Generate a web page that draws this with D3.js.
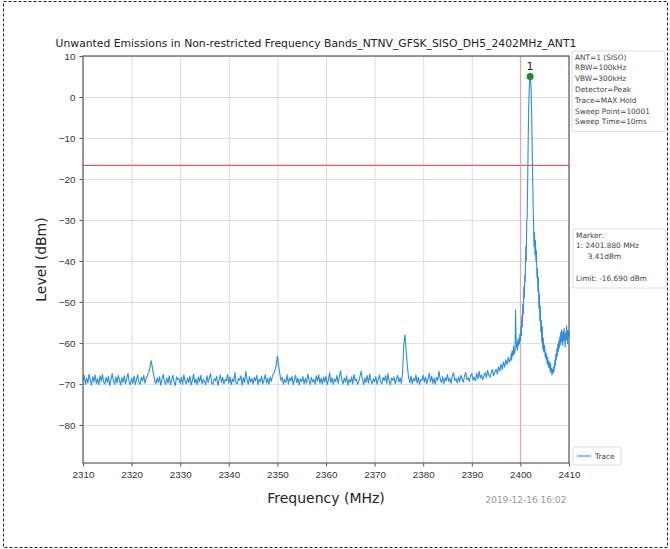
<!DOCTYPE html>
<html>
<head>
<meta charset="utf-8">
<script src="https://cdn.jsdelivr.net/npm/d3@7"></script>
<style>
    body { margin: 0; background: #fff; }
    svg { display: block; font-family: "DejaVu Sans", sans-serif; }
    .tick text { fill: #333; font-size: 9.8px; }
    .tick line { stroke: #555; }
    .grid line { stroke: #ddd; }
    .note { font-size: 7.4px; fill: #444; }
</style>
</head>
<body>
<svg id="chart" width="670" height="549"></svg>
<script>
// Noise floor: 2310 .. 2397.75 MHz, one reading every 0.25 MHz
var noiseStart = 2310;
var noiseStep = 0.25;
var noiseLevels = [
    -69.3, -67.9, -70.1, -68.6, -69.8, -67.6, -69.0, -70.3, -68.2, -69.5, -67.8, -69.9, -68.7, -70.2, -68.0, -69.4, -67.7, -69.6, -70.0, -68.4,
    -69.7, -68.1, -70.4, -68.9, -67.5, -69.2, -70.1, -68.3, -69.8, -67.9, -69.0, -70.3, -68.5, -69.6, -68.0, -70.0, -68.8, -67.4, -69.5, -70.2,
    -68.6, -69.9, -68.1, -70.2, -69.0, -67.8, -69.6, -70.1, -68.4, -69.3, -67.9, -69.8, -68.7, -68.0, -67.2, -66.3, -64.3, -65.8, -67.6, -69.2,
    -70.0, -68.5, -69.7, -68.2, -70.3, -68.9, -67.7, -69.4, -70.1, -68.6, -69.8, -68.0, -70.2, -69.1, -67.9, -69.5, -70.4, -68.3, -69.0, -68.7,
    -69.9, -68.4, -70.1, -67.8, -69.3, -70.0, -68.6, -69.7, -68.1, -70.3, -69.2, -67.6, -69.8, -68.8, -70.2, -68.3, -69.5, -67.9, -70.0, -68.9,
    -69.4, -70.2, -68.0, -69.7, -68.5, -67.5, -69.9, -70.1, -68.7, -69.2, -68.2, -70.4, -69.0, -67.8, -69.6, -68.4, -70.0, -68.9, -69.3, -67.7,
    -69.8, -68.3, -70.2, -68.8, -69.5, -67.2, -69.9, -70.0, -68.6, -69.1, -68.0, -70.3, -68.5, -69.7, -66.9, -68.9, -70.1, -68.2, -69.6, -68.7,
    -70.0, -68.4, -69.3, -67.9, -70.2, -68.8, -69.5, -68.1, -70.0, -69.0, -67.7, -69.8, -68.6, -70.1, -68.3, -69.4, -68.0, -67.4, -66.6, -65.5,
    -63.2, -65.6, -67.5, -69.2, -68.4, -70.1, -68.9, -69.6, -67.8, -70.0, -68.5, -69.3, -68.1, -70.2, -69.0, -67.9, -69.7, -68.6, -70.3, -68.8,
    -69.4, -68.2, -70.0, -68.7, -69.8, -67.6, -69.1, -70.2, -68.4, -69.5, -68.9, -70.1, -68.0, -69.3, -67.8, -69.9, -68.6, -70.0, -68.3, -69.6,
    -68.1, -70.2, -69.0, -67.3, -69.7, -68.5, -70.1, -68.8, -69.4, -67.9, -69.9, -68.2, -66.8, -69.1, -70.0, -68.6, -69.5, -68.0, -70.3, -68.9,
    -69.6, -68.3, -70.0, -67.7, -69.2, -68.8, -70.1, -69.4, -68.1, -66.9, -69.0, -70.2, -68.5, -69.7, -68.0, -69.8, -67.6, -69.3, -70.0, -68.7,
    -69.5, -68.2, -70.1, -68.9, -67.8, -69.6, -70.0, -68.4, -69.2, -68.0, -69.9, -67.5, -69.4, -70.2, -68.6, -69.1, -68.3, -70.0, -68.8, -67.9,
    -69.6, -68.5, -69.9, -67.4, -60.5, -58.0, -62.0, -65.8, -68.4, -69.7, -68.1, -70.0, -68.7, -69.3, -67.8, -69.8, -68.4, -70.1, -68.9, -69.2,
    -67.9, -69.6, -68.3, -70.0, -68.8, -67.4, -69.5, -68.1, -69.9, -68.6, -70.1, -68.4, -69.1, -66.9, -68.8, -69.7, -68.2, -70.0, -68.5, -69.3,
    -67.7, -69.4, -68.6, -69.9, -68.0, -67.3, -69.2, -68.7, -69.8, -68.3, -69.5, -67.9, -68.8, -69.6, -68.1, -67.2, -69.0, -68.5, -69.4, -68.0,
    -67.5, -69.1, -68.3, -69.3, -67.4, -68.8, -66.9, -68.6, -67.8, -69.0, -68.1, -67.2, -68.5, -66.7, -67.9, -68.4, -67.3, -66.5, -68.0, -67.1,
    -66.4, -67.6, -65.8, -66.9, -65.2, -66.5, -64.6, -65.9, -64.1, -65.3, -63.5, -64.7
];

// Carrier region: 2398 .. 2410 MHz, one reading every 0.1 MHz
var peakStart = 2398;
var peakStep = 0.1;
var peakLevels = [
    -63.8, -62.6, -64.2, -61.9, -63.1, -62.4, -60.8, -62.9, -61.5, -62.2,
    -52.0, -58.5, -61.2, -60.0, -61.8, -59.3, -60.6, -58.8, -60.2, -57.9,
    -59.5, -56.0, -58.2, -53.4, -56.0, -50.5, -53.0, -46.3, -49.0, -43.5,
    -45.0, -36.5, -40.0, -30.5, -29.0, -20.0, -11.0, -3.0, 1.5, 3.8,
    5.0, 4.2, 2.0, -3.5, -10.0, -18.0, -25.0, -30.0, -36.5, -33.0,
    -38.5, -35.0, -40.2, -37.5, -44.0, -41.8, -47.5, -44.0, -51.5, -48.0,
    -54.5, -51.0, -57.2, -54.5, -59.8, -56.0, -61.5, -58.8, -62.2, -60.5,
    -61.0, -63.5, -62.2, -64.0, -62.8, -65.2, -63.6, -64.8, -66.0, -64.4,
    -65.6, -66.8, -65.0, -67.2, -66.2, -67.8, -66.5, -67.4, -65.8, -67.0,
    -66.0, -64.2, -65.5, -62.8, -64.0, -61.5, -63.2, -60.4, -62.0, -59.5,
    -61.2, -58.6, -60.5, -57.4, -59.8, -56.8, -58.9, -60.6, -57.2, -59.4,
    -56.5, -58.8, -61.0, -57.6, -59.2, -55.8, -58.0, -60.2, -56.9, -58.4,
    -57.5
];

var xTicks = [2310, 2320, 2330, 2340, 2350, 2360, 2370, 2380, 2390, 2400, 2410];
var yTicks = [10, 0, -10, -20, -30, -40, -50, -60, -70, -80];

var limitLevel = -16.69;
var bandEdge = 2400;
var markerFreq = 2402.0;
var markerLevel = 5.0;

var titleText = "Unwanted Emissions in Non-restricted Frequency Bands_NTNV_GFSK_SISO_DH5_2402MHz_ANT1";
var setupLines = ["ANT=1 (SISO)", "RBW=100kHz", "VBW=300kHz", "Detector=Peak",
    "Trace=MAX Hold", "Sweep Point=10001", "Sweep Time=10ms"];
var markerLines = ["Marker:", "1: 2401.880 MHz", "     3.41dBm", "", "Limit: -16.690 dBm"];
var stampText = "2019-12-16 16:02";

var margin = {left: 83, top: 56, right: 101, bottom: 86};
var W = 670, H = 549;
var width = W - margin.left - margin.right;
var height = H - margin.top - margin.bottom;

var svg = d3.select("#chart");

// page frame
svg.append("rect")
    .attr("x", 3.5).attr("y", 1.5)
    .attr("width", 664).attr("height", 546)
    .attr("fill", "none")
    .attr("stroke", "#222")
    .attr("stroke-dasharray", "3,2");

var trace = noiseLevels.map(function (v, i) {
    return {f: noiseStart + i * noiseStep, v: v};
}).concat(peakLevels.map(function (v, i) {
    return {f: peakStart + i * peakStep, v: v};
}));

var x = d3.scaleLinear()
    .domain([2310, 2410])
    .range([margin.left, margin.left + width]);

var y = d3.scaleLinear()
    .domain([-89.3, 10])
    .range([margin.top + height, margin.top]);

// grid
svg.append("g")
    .attr("class", "grid")
    .attr("transform", "translate(0," + (margin.top + height) + ")")
    .call(d3.axisBottom(x).tickValues(xTicks).tickSize(-height).tickFormat(""))
    .call(g => g.select(".domain").remove());

svg.append("g")
    .attr("class", "grid")
    .attr("transform", "translate(" + margin.left + ",0)")
    .call(d3.axisLeft(y).tickValues(yTicks).tickSize(-width).tickFormat(""))
    .call(g => g.select(".domain").remove());

// limit and band edge
svg.append("line")
    .attr("x1", margin.left).attr("x2", margin.left + width)
    .attr("y1", y(limitLevel)).attr("y2", y(limitLevel))
    .attr("stroke", "#e0605a").attr("stroke-width", 1.1);

svg.append("line")
    .attr("x1", x(bandEdge)).attr("x2", x(bandEdge))
    .attr("y1", margin.top).attr("y2", margin.top + height)
    .attr("stroke", "#e8a0a0").attr("stroke-width", 1);

// trace
var line = d3.line()
    .x(d => x(d.f))
    .y(d => y(d.v));

svg.append("path")
    .datum(trace)
    .attr("d", line)
    .attr("fill", "none")
    .attr("stroke", "#2c8ee3")
    .attr("stroke-width", 1.1)
    .attr("stroke-linejoin", "round");

// marker
svg.append("circle")
    .attr("cx", x(markerFreq)).attr("cy", y(markerLevel))
    .attr("r", 3.5)
    .attr("fill", "#1e8a2e");

svg.append("text")
    .attr("x", x(markerFreq))
    .attr("y", y(markerLevel) - 6)
    .attr("text-anchor", "middle")
    .style("font-size", "11px")
    .style("fill", "#222")
    .text("1");

// axes
var xAxis = svg.append("g")
    .attr("transform", "translate(0," + (margin.top + height) + ")")
    .call(d3.axisBottom(x).tickValues(xTicks).tickSize(3.5).tickPadding(5).tickFormat(d3.format("d")));

var yAxis = svg.append("g")
    .attr("transform", "translate(" + margin.left + ",0)")
    .call(d3.axisLeft(y).tickValues(yTicks).tickSize(3.5).tickPadding(4)
        .tickFormat(d => d < 0 ? "\u2212" + Math.abs(d) : d));

svg.selectAll(".domain").remove();

svg.append("rect")
    .attr("x", margin.left).attr("y", margin.top)
    .attr("width", width).attr("height", height)
    .attr("fill", "none")
    .attr("stroke", "#666")
    .attr("stroke-width", 1.3);

// titles
svg.append("text")
    .attr("x", 316)
    .attr("y", 47)
    .attr("text-anchor", "middle")
    .style("font-size", "10.8px")
    .style("fill", "#222")
    .text(titleText);

svg.append("text")
    .attr("transform", "translate(46," + (margin.top + height / 2) + ") rotate(-90)")
    .attr("text-anchor", "middle")
    .style("font-size", "14px")
    .style("fill", "#222")
    .text("Level (dBm)");

svg.append("text")
    .attr("x", margin.left + width / 2)
    .attr("y", 503)
    .attr("text-anchor", "middle")
    .style("font-size", "14px")
    .style("fill", "#222")
    .text("Frequency (MHz)");

svg.append("text")
    .attr("x", 526)
    .attr("y", 503)
    .attr("text-anchor", "middle")
    .style("font-size", "9px")
    .style("fill", "#999")
    .text(stampText);

// side notes
function noteBox(lines, x0, y0, w) {
    var h = lines.length * 10.8 + 5;
    svg.append("rect")
        .attr("x", x0).attr("y", y0)
        .attr("width", w).attr("height", h)
        .attr("rx", 2)
        .attr("fill", "#fff")
        .attr("stroke", "#ddd");
    svg.selectAll(null)
        .data(lines)
        .enter()
        .append("text")
        .attr("class", "note")
        .attr("x", x0 + 3)
        .attr("y", (d, i) => y0 + 8.5 + i * 10.8)
        .style("white-space", "pre")
        .text(d => d);
}

noteBox(setupLines, 572, 51, 93);
noteBox(markerLines, 573, 229, 93);

// legend
svg.append("rect")
    .attr("x", 573).attr("y", 447)
    .attr("width", 48).attr("height", 18)
    .attr("rx", 2)
    .attr("fill", "#fff")
    .attr("stroke", "#ddd");
svg.append("line")
    .attr("x1", 577).attr("x2", 591)
    .attr("y1", 456).attr("y2", 456)
    .attr("stroke", "#2c8ee3").attr("stroke-width", 1.1);
svg.append("text")
    .attr("class", "note")
    .attr("x", 595).attr("y", 459)
    .text("Trace");
</script>
</body>
</html>
